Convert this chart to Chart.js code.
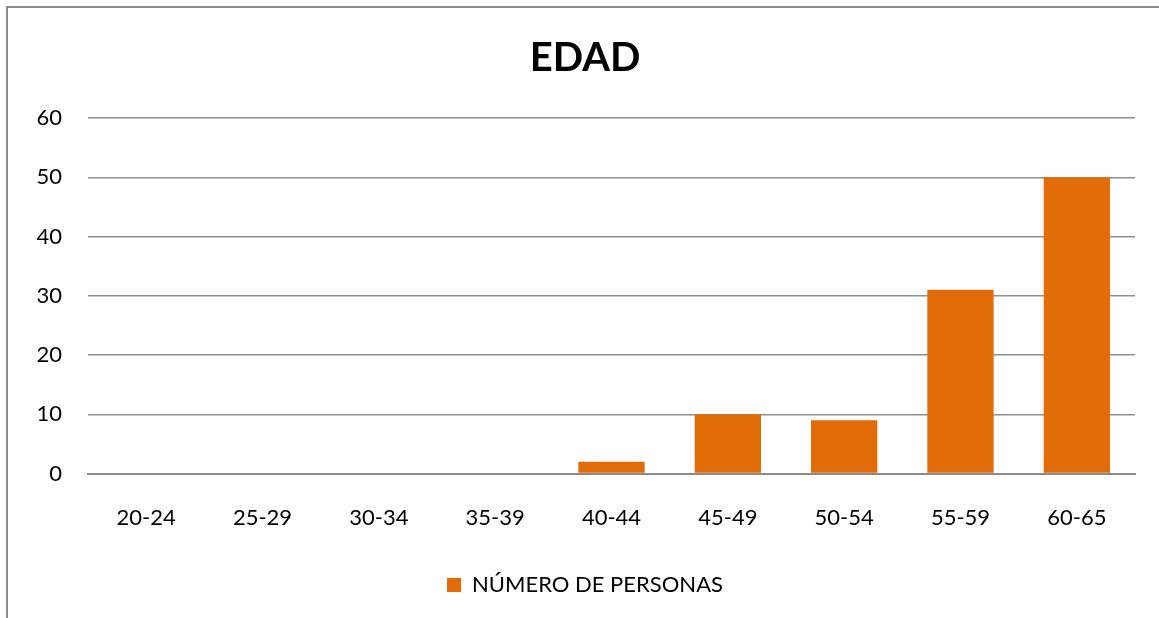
<!DOCTYPE html>
<html>
<head>
<meta charset="utf-8">
<script src="https://cdn.jsdelivr.net/npm/chart.js@4"></script>
<style>
  html, body { margin: 0; padding: 0; background: #fff; }
  #wrap { position: relative; width: 1159px; height: 618px; overflow: hidden; }
  #frame {
    position: absolute; left: 6px; top: 6px; width: 1300px; height: 700px;
    border-left: 2px solid #8a8a8a; border-top: 2px solid #8a8a8a;
  }
  #box { position: absolute; left: 0; top: 0; width: 1159px; height: 618px; }
</style>
</head>
<body>
<div id="wrap">
  <div id="frame"></div>
  <div id="box"><canvas id="edadChart"></canvas></div>
</div>
<script>
const categories = ['20-24', '25-29', '30-34', '35-39', '40-44', '45-49', '50-54', '55-59', '60-65'];
const personas = [0, 0, 0, 0, 2, 10, 9, 31, 50];
const yTicks = [0, 10, 20, 30, 40, 50, 60];

const fontFamily = 'Lato, "Noto Sans", sans-serif';

const ctx = document.getElementById('edadChart').getContext('2d');
const chart = new Chart(ctx, {
  type: 'bar',
  data: {
    labels: categories,
    datasets: [{
      label: 'NÚMERO DE PERSONAS',
      data: personas,
      backgroundColor: '#E36C0A',
      borderWidth: 0,
      barPercentage: 0.57,
      categoryPercentage: 1
    }]
  },
  options: {
    responsive: true,
    maintainAspectRatio: false,
    animation: false,
    layout: { padding: { left: 35, right: 24, top: 34, bottom: 12 } },
    plugins: {
      title: {
        display: true,
        text: 'EDAD',
        color: '#000',
        font: { family: fontFamily, size: 40, weight: 'bold' },
        padding: { top: 0, bottom: 36 }
      },
      legend: {
        position: 'bottom',
        labels: {
          color: '#000',
          font: { family: fontFamily, size: 22 },
          boxWidth: 14,
          boxHeight: 14,
          padding: 20
        }
      },
      tooltip: { enabled: false }
    },
    scales: {
      x: {
        grid: { display: false },
        border: { color: '#8a8a8a', width: 2 },
        ticks: { color: '#000', font: { family: fontFamily, size: 22 }, padding: 23 }
      },
      y: {
        min: 0,
        max: 60,
        afterBuildTicks: axis => { axis.ticks = yTicks.map(v => ({ value: v })); },
        afterFit: axis => { axis.width = 53; }, // keep plot left edge where the original has it
        grid: { color: '#8f8f8f', lineWidth: 1.5, drawTicks: false },
        border: { display: false },
        ticks: { color: '#000', font: { family: fontFamily, size: 22 }, padding: 26 }
      }
    }
  }
});
</script>
</body>
</html>
